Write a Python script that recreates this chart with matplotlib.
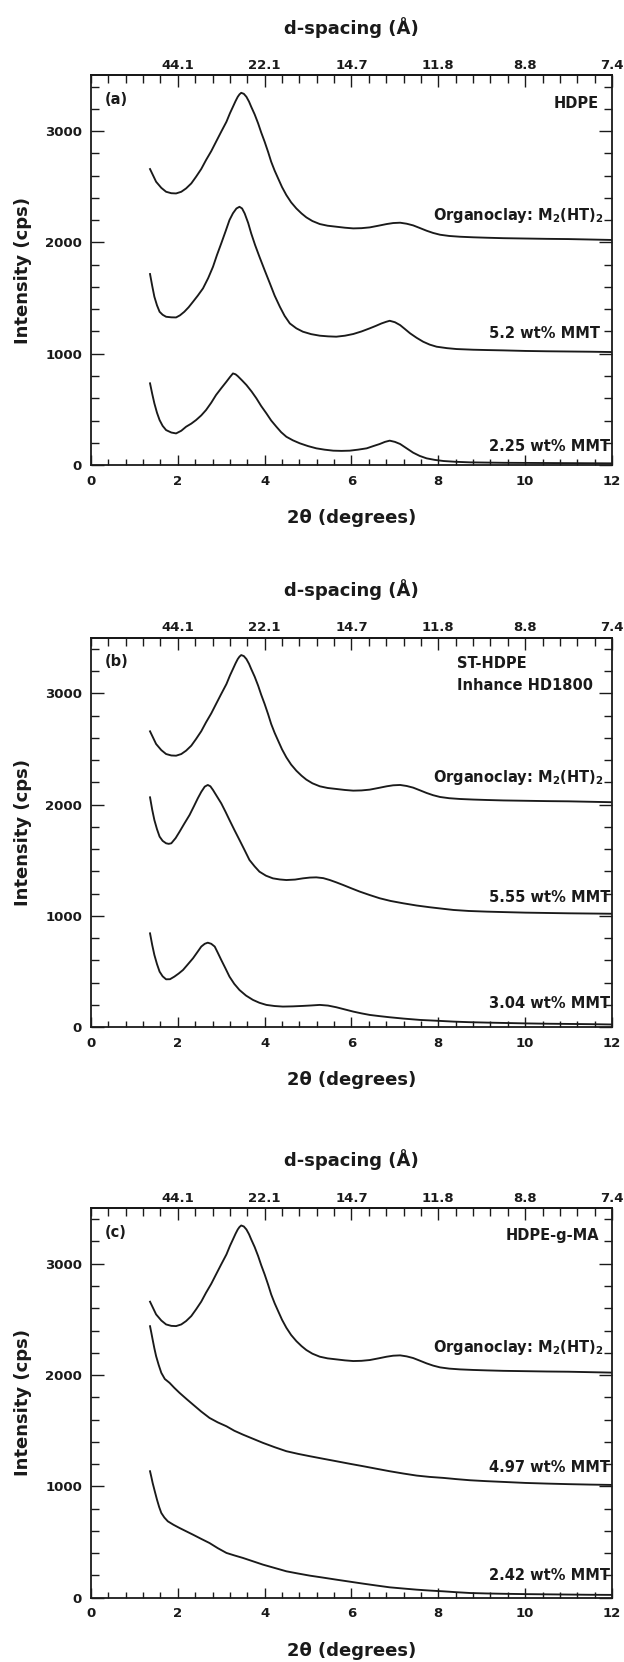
import numpy as np
import matplotlib
matplotlib.use("Agg")
import matplotlib.pyplot as plt
from matplotlib.ticker import MultipleLocator

plt.rcParams["font.family"] = ["DejaVu Sans"]
plt.rcParams["font.weight"] = "bold"
plt.rcParams["mathtext.default"] = "bf"

# Organoclay M2(HT)2 reference pattern (same in all panels)
clay_x = [1.36, 1.5, 1.62, 1.73, 1.85, 1.96, 2.08, 2.19, 2.31, 2.42, 2.54, 2.65,
          2.77, 2.88, 3.0, 3.12, 3.2, 3.27, 3.33, 3.38, 3.42, 3.46, 3.52, 3.58,
          3.64, 3.69, 3.77, 3.85, 3.92, 4.0, 4.08, 4.15, 4.23, 4.31, 4.4, 4.5,
          4.61, 4.73, 4.85, 4.96, 5.1, 5.27, 5.45, 5.65, 5.85, 6.04, 6.23, 6.42,
          6.62, 6.81, 6.96, 7.12, 7.27, 7.42, 7.57, 7.73, 7.88, 8.04, 8.25, 8.5,
          8.8, 9.12, 9.5, 10.0, 10.5, 11.0, 11.5, 12.0]
clay_y = [2659, 2545, 2490, 2455, 2442, 2440, 2455, 2485, 2530, 2590, 2660, 2740,
          2820, 2904, 2995, 3084, 3160, 3219, 3270, 3308, 3330, 3344, 3335, 3308,
          3265, 3219, 3150, 3069, 2988, 2904, 2812, 2725, 2645, 2575, 2497, 2425,
          2360, 2305, 2260, 2225, 2192, 2165, 2150, 2141, 2132, 2126, 2128, 2135,
          2150, 2165, 2174, 2177, 2168, 2153, 2130, 2105, 2085, 2069, 2058, 2051,
          2046, 2042, 2038, 2035, 2032, 2030, 2026, 2022]

# (a) HDPE
a_hi_x = [1.36, 1.41, 1.46, 1.52, 1.58, 1.65, 1.73, 1.85, 1.96, 2.05, 2.15, 2.25,
          2.35, 2.46, 2.58, 2.7, 2.81, 2.9, 3.0, 3.1, 3.19, 3.27, 3.35, 3.42,
          3.48, 3.54, 3.62, 3.69, 3.78, 3.88, 4.0, 4.12, 4.23, 4.35, 4.46, 4.58,
          4.73, 4.88, 5.07, 5.27, 5.46, 5.65, 5.85, 6.04, 6.23, 6.42, 6.56, 6.69,
          6.8, 6.88, 7.0, 7.12, 7.23, 7.35, 7.5, 7.65, 7.8, 7.96, 8.2, 8.42,
          8.8, 9.12, 9.5, 10.0, 10.5, 11.0, 11.5, 12.0]
a_hi_y = [1716, 1610, 1512, 1435, 1377, 1350, 1332, 1327, 1326, 1345, 1377, 1418,
          1467, 1522, 1587, 1680, 1781, 1885, 1991, 2100, 2201, 2262, 2305, 2320,
          2305, 2260, 2175, 2081, 1976, 1871, 1750, 1632, 1522, 1422, 1340, 1272,
          1228, 1198, 1176, 1162, 1156, 1153, 1162, 1177, 1200, 1228, 1250, 1272,
          1287, 1296, 1283, 1257, 1222, 1183, 1143, 1108, 1082, 1063, 1050, 1042,
          1036, 1033, 1030, 1025, 1022, 1020, 1018, 1015]
a_lo_x = [1.36, 1.41, 1.46, 1.52, 1.58, 1.65, 1.73, 1.85, 1.96, 2.08, 2.19, 2.31,
          2.42, 2.54, 2.65, 2.77, 2.88, 3.0, 3.12, 3.2, 3.27, 3.33, 3.38, 3.48,
          3.58, 3.7, 3.81, 3.92, 4.04, 4.15, 4.27, 4.38, 4.5, 4.65, 4.81, 5.0,
          5.19, 5.38, 5.58, 5.77, 5.96, 6.15, 6.35, 6.5, 6.65, 6.77, 6.88, 7.0,
          7.12, 7.27, 7.42, 7.57, 7.73, 7.92, 8.12, 8.4, 8.73, 9.1, 9.5, 10.0,
          10.5, 11.0, 11.5, 12.0]
a_lo_y = [734, 640, 554, 470, 404, 352, 314, 292, 284, 308, 344, 372,
          404, 446, 494, 560, 629, 690, 749, 790, 823, 815, 799, 760,
          719, 660, 599, 530, 464, 400, 344, 295, 254, 222, 195, 170,
          150, 138, 129, 127, 129, 138, 150, 170, 189, 208, 219, 208,
          189, 150, 111, 82, 60, 46, 36, 29, 24, 22, 20, 19,
          18, 17, 16, 15]

# (b) ST-HDPE
b_hi_x = [1.36, 1.41, 1.46, 1.52, 1.58, 1.65, 1.73, 1.79, 1.85, 1.95, 2.04, 2.15,
          2.27, 2.37, 2.46, 2.54, 2.62, 2.69, 2.75, 2.81, 2.9, 3.0, 3.1, 3.19,
          3.3, 3.42, 3.54, 3.65, 3.77, 3.88, 4.03, 4.19, 4.35, 4.5, 4.7, 4.88,
          5.04, 5.19, 5.35, 5.5, 5.65, 5.81, 6.0, 6.19, 6.42, 6.65, 6.9, 7.19,
          7.5, 7.81, 8.1, 8.35, 8.7, 9.12, 9.5, 10.0, 10.5, 11.0, 11.5, 12.0]
b_hi_y = [2066, 1955, 1862, 1780, 1713, 1675, 1653, 1648, 1653, 1700, 1757, 1830,
          1907, 1985, 2057, 2115, 2162, 2177, 2165, 2132, 2075, 2012, 1935, 1862,
          1775, 1683, 1590, 1503, 1445, 1398, 1362, 1338, 1328, 1323, 1327, 1338,
          1345, 1347, 1340, 1323, 1302, 1278, 1248, 1219, 1188, 1159, 1135, 1114,
          1094, 1078, 1065, 1054, 1045, 1039, 1035, 1030, 1027, 1024, 1022, 1020]
b_lo_x = [1.36, 1.41, 1.46, 1.52, 1.58, 1.65, 1.73, 1.82, 1.92, 2.02, 2.12, 2.23,
          2.35, 2.45, 2.54, 2.62, 2.69, 2.77, 2.85, 2.92, 3.0, 3.1, 3.19, 3.3,
          3.42, 3.57, 3.73, 3.88, 4.04, 4.23, 4.42, 4.65, 4.88, 5.07, 5.27, 5.46,
          5.65, 5.85, 6.04, 6.23, 6.42, 6.65, 6.88, 7.2, 7.58, 8.0, 8.35, 8.7,
          9.12, 9.5, 10.0, 10.5, 11.0, 11.5, 12.0]
b_lo_y = [844, 740, 650, 568, 500, 458, 431, 432, 455, 483, 515, 565,
          620, 675, 725, 750, 760, 750, 725, 670, 605, 527, 455, 390,
          335, 285, 246, 220, 201, 191, 186, 188, 192, 196, 201, 195,
          180, 160, 141, 125, 111, 100, 90, 78, 66, 58, 51, 46,
          42, 39, 35, 32, 30, 28, 25]

# (c) HDPE-g-MA
c_hi_x = [1.36, 1.39, 1.42, 1.46, 1.5, 1.56, 1.62, 1.7, 1.81, 1.92, 2.04, 2.2,
          2.35, 2.54, 2.73, 2.92, 3.12, 3.3, 3.5, 3.73, 3.96, 4.23, 4.5, 4.77,
          5.04, 5.35, 5.65, 5.96, 6.27, 6.58, 6.88, 7.2, 7.5, 7.8, 8.12, 8.42,
          8.73, 9.1, 9.5, 10.0, 10.5, 11.0, 11.5, 12.0]
c_hi_y = [2439, 2380, 2319, 2240, 2170, 2090, 2020, 1965, 1930, 1885, 1840, 1785,
          1735, 1672, 1615, 1575, 1540, 1500, 1465, 1428, 1391, 1352, 1316, 1292,
          1271, 1248, 1226, 1203, 1181, 1158, 1136, 1115, 1097, 1085, 1076, 1065,
          1055, 1047, 1040, 1031, 1025, 1020, 1016, 1013]
c_lo_x = [1.36, 1.39, 1.42, 1.47, 1.52, 1.57, 1.62, 1.69, 1.77, 1.9, 2.04, 2.2,
          2.35, 2.54, 2.73, 2.92, 3.12, 3.3, 3.5, 3.73, 3.96, 4.23, 4.5, 4.77,
          5.04, 5.35, 5.65, 5.96, 6.27, 6.58, 6.88, 7.2, 7.5, 7.8, 8.12, 8.42,
          8.73, 9.1, 9.5, 10.0, 10.5, 11.0, 11.5, 12.0]
c_lo_y = [1136, 1085, 1031, 955, 881, 815, 761, 720, 686, 655, 626, 595,
          566, 528, 491, 445, 402, 380, 357, 327, 297, 267, 237, 217,
          198, 180, 162, 144, 126, 109, 93, 82, 72, 64, 57, 49,
          42, 38, 35, 32, 30, 28, 26, 25]

top_ticks = [2, 4, 6, 8, 10, 12]
top_labels = ["44.1", "22.1", "14.7", "11.8", "8.8", "7.4"]

panels = [
    dict(tag="(a)", title=["HDPE"], hi=(a_hi_x, a_hi_y), lo=(a_lo_x, a_lo_y),
         hi_lab="5.2 wt% MMT", lo_lab="2.25 wt% MMT", bottom=0.7202,
         hi_pos=(11.73, 1138), lo_pos=(11.96, 122), clay_base=2200),
    dict(tag="(b)", title=["ST-HDPE", "Inhance HD1800"], hi=(b_hi_x, b_hi_y),
         lo=(b_lo_x, b_lo_y), hi_lab="5.55 wt% MMT", lo_lab="3.04 wt% MMT",
         bottom=0.3819, hi_pos=(11.96, 1128), lo_pos=(11.96, 170),
         clay_base=2206),
    dict(tag="(c)", title=["HDPE-g-MA"], hi=(c_hi_x, c_hi_y), lo=(c_lo_x, c_lo_y),
         hi_lab="4.97 wt% MMT", lo_lab="2.42 wt% MMT", bottom=0.0387,
         hi_pos=(11.96, 1133), lo_pos=(11.96, 160), clay_base=2210),
]

ink = "#1a1a1a"
fig = plt.figure(figsize=(6.24, 16.62), dpi=100)

for p in panels:
    ax = fig.add_axes([0.1458, p["bottom"], 0.835, 0.2344])
    ax.plot(clay_x, clay_y, color=ink, lw=1.35)
    ax.plot(*p["hi"], color=ink, lw=1.35)
    ax.plot(*p["lo"], color=ink, lw=1.35)

    ax.set_xlim(0, 12)
    ax.set_ylim(0, 3500)
    ax.xaxis.set_major_locator(MultipleLocator(2))
    ax.xaxis.set_minor_locator(MultipleLocator(0.4))
    ax.set_yticks([0, 1000, 2000, 3000])
    ax.yaxis.set_minor_locator(MultipleLocator(200))
    ax.tick_params(axis="both", which="both", direction="in", colors=ink,
                   labelsize=9.5, width=1.0)
    ax.tick_params(axis="x", which="major", length=7, pad=7)
    ax.tick_params(axis="x", which="minor", length=4.5)
    ax.tick_params(axis="y", which="major", length=9.4, pad=6.5, right=True)
    ax.tick_params(axis="y", which="minor", length=6, right=True)
    for s in ax.spines.values():
        s.set_linewidth(1.3)
        s.set_color(ink)

    sec = ax.secondary_xaxis("top")
    sec.set_xticks(top_ticks, top_labels)
    sec.xaxis.set_minor_locator(MultipleLocator(0.4))
    sec.tick_params(axis="x", which="both", direction="in", colors=ink,
                    labelsize=9.5, width=1.0, pad=2.5)
    sec.tick_params(axis="x", which="major", length=8.6)
    sec.tick_params(axis="x", which="minor", length=6)
    sec.spines["top"].set_linewidth(1.3)

    ax.text(0.5, 1.124, "d-spacing (Å)", transform=ax.transAxes, ha="center",
            va="center", fontsize=13, color=ink)
    ax.text(0.5, -0.136, "2θ (degrees)", transform=ax.transAxes, ha="center",
            va="center", fontsize=13, color=ink)
    ax.text(-0.131, 0.5, "Intensity (cps)", transform=ax.transAxes, ha="center",
            va="center", rotation=90, fontsize=13, color=ink)

    ax.text(0.32, 3285, p["tag"], ha="left", va="center", fontsize=10.5, color=ink)
    if len(p["title"]) == 1:
        ax.text(11.7, 3250, p["title"][0], ha="right", va="center", fontsize=10.5,
                color=ink)
    else:
        ax.text(8.43, 3270, p["title"][0], ha="left", va="center", fontsize=10.5,
                color=ink)
        ax.text(8.43, 3075, p["title"][1], ha="left", va="center", fontsize=10.5,
                color=ink)
    ax.text(11.8, p["clay_base"], "Organoclay: M$_2$(HT)$_2$", ha="right",
            va="baseline", fontsize=10.5, color=ink)
    ax.text(*p["hi_pos"], p["hi_lab"], ha="right", va="baseline", fontsize=10.5,
            color=ink)
    ax.text(*p["lo_pos"], p["lo_lab"], ha="right", va="baseline", fontsize=10.5,
            color=ink)

fig.savefig("out.png", dpi=100)
